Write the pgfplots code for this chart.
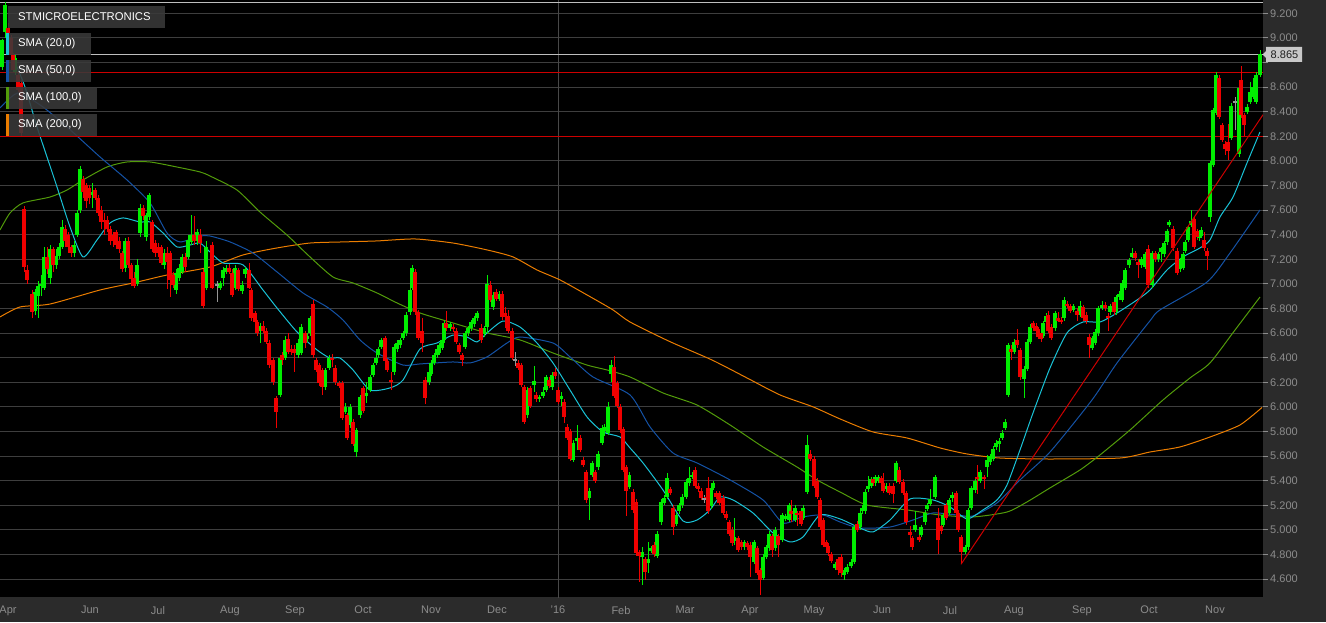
\documentclass[border=0pt]{standalone}
\usepackage{pgfplots}
\pgfplotsset{compat=1.18}
\usepackage{pgfplotstable}
\usepackage{fontspec}
\setmainfont{Liberation Sans}

\definecolor{panel}{RGB}{43,43,43}
\definecolor{gridc}{RGB}{62,62,62}
\definecolor{sepc}{RGB}{72,72,72}
\definecolor{tickc}{RGB}{140,140,140}
\definecolor{cup}{RGB}{0,238,0}
\definecolor{cdn}{RGB}{240,0,0}
\definecolor{cgr}{RGB}{150,150,150}
\definecolor{smaA}{RGB}{25,195,215}
\definecolor{smaB}{RGB}{20,82,165}
\definecolor{smaC}{RGB}{82,155,10}
\definecolor{smaD}{RGB}{235,125,0}
\definecolor{hred}{RGB}{205,0,0}
\definecolor{hlight}{RGB}{190,190,190}
\definecolor{legbox}{RGB}{58,58,58}
\definecolor{tagfill}{RGB}{200,200,200}

\pgfplotstableread{
x o h l c
2 8.76 8.99 8.74 8.98
5 9.05 9.29 9.00 9.27
8 9.08 9.12 9.00 9.04
11 9.00 9.02 8.84 8.86
13 8.86 8.88 8.72 8.74
15 8.72 8.86 8.70 8.84
18 8.70 8.72 8.56 8.58
21 8.63 8.66 8.20 8.23
24 7.61 7.63 7.10 7.14
27 7.11 7.15 7.00 7.03
32 6.92 6.95 6.72 6.77
35 6.78 6.96 6.75 6.93
38 6.90 7.02 6.72 6.98
41 6.98 7.07 6.90 7.00
44 6.97 7.30 6.95 7.22
47 7.22 7.30 7.08 7.12
50 7.05 7.32 7.00 7.28
53 7.28 7.30 7.10 7.15
56 7.15 7.28 7.12 7.23
59 7.23 7.33 7.20 7.30
62 7.30 7.52 7.28 7.46
65 7.45 7.48 7.30 7.35
68 7.40 7.42 7.25 7.30
71 7.30 7.32 7.22 7.25
74 7.25 7.35 7.22 7.32
77 7.40 7.60 7.38 7.58
80 7.60 7.96 7.58 7.93
83 7.85 7.88 7.70 7.75
86 7.80 7.82 7.62 7.67
89 7.78 7.80 7.65 7.70
92 7.72 7.82 7.62 7.75
95 7.76 7.78 7.68 7.70
98 7.70 7.72 7.55 7.58
101 7.60 7.63 7.45 7.50
104 7.52 7.58 7.40 7.51
107 7.52 7.55 7.42 7.45
110 7.45 7.47 7.32 7.35
113 7.40 7.42 7.30 7.35
116 7.42 7.44 7.28 7.32
119 7.35 7.38 7.25 7.28
122 7.25 7.27 7.10 7.12
125 7.13 7.37 7.10 7.35
128 7.35 7.38 7.13 7.15
131 7.15 7.17 6.98 7.04
134 7.05 7.10 6.97 6.98
137 7.00 7.20 6.98 7.15
140 7.41 7.65 7.38 7.62
143 7.62 7.64 7.52 7.55
146 7.38 7.58 7.35 7.56
149 7.54 7.74 7.52 7.72
152 7.50 7.52 7.26 7.28
155 7.33 7.36 7.22 7.25
158 7.30 7.33 7.22 7.25
161 7.30 7.32 7.15 7.17
164 7.15 7.28 7.12 7.25
167 7.25 7.30 6.96 7.18
170 7.25 7.27 6.89 7.03
173 7.07 7.10 6.97 6.99
176 6.95 7.12 6.92 7.09
179 7.05 7.16 7.02 7.13
182 7.10 7.24 7.08 7.22
185 7.22 7.25 7.10 7.14
188 7.22 7.40 7.20 7.36
191 7.34 7.56 7.32 7.40
194 7.40 7.55 7.32 7.35
197 7.35 7.45 7.32 7.42
200 7.40 7.45 7.25 7.33
203 7.10 7.12 6.80 6.82
206 6.97 7.35 6.95 7.30
212 7.32 7.34 6.96 6.97
217 6.99 7.02 6.85 6.99
220 6.97 7.02 6.95 7.01
223 7.05 7.14 6.98 7.11
226 7.10 7.15 7.08 7.13
229 7.13 7.16 7.08 7.10
232 7.09 7.12 6.89 6.91
235 6.97 7.15 6.95 7.13
238 7.11 7.13 6.94 6.96
242 6.94 7.02 6.92 6.99
245 7.08 7.14 7.05 7.12
249 7.11 7.17 6.96 6.97
251 6.95 6.97 6.70 6.72
255 6.76 6.78 6.66 6.69
257 6.69 6.71 6.58 6.60
260 6.62 6.68 6.52 6.66
263 6.66 6.70 6.60 6.62
266 6.62 6.64 6.51 6.53
269 6.52 6.54 6.32 6.34
273 6.38 6.40 6.18 6.20
276 6.07 6.09 5.83 5.96
280 6.10 6.42 6.08 6.40
282 6.42 6.45 6.34 6.38
285 6.40 6.58 6.38 6.54
288 6.55 6.60 6.43 6.45
291 6.47 6.50 6.42 6.45
294 6.47 6.50 6.28 6.44
298 6.42 6.55 6.40 6.52
301 6.44 6.67 6.42 6.65
305 6.60 6.62 6.48 6.52
307 6.55 6.60 6.53 6.58
310 6.60 6.74 6.58 6.72
313 6.84 6.87 6.40 6.42
316 6.38 6.40 6.28 6.30
319 6.34 6.36 6.17 6.19
322 6.30 6.32 6.10 6.16
325 6.16 6.32 6.14 6.30
329 6.32 6.42 6.30 6.40
332 6.40 6.43 6.32 6.38
335 6.32 6.34 6.18 6.20
339 6.19 6.21 6.15 6.17
342 6.19 6.21 5.89 5.91
345 5.96 6.03 5.94 6.00
347 5.93 5.95 5.73 5.75
350 5.85 6.02 5.83 6.00
353 5.88 5.90 5.68 5.70
356 5.63 5.83 5.59 5.81
360 5.93 6.10 5.91 6.08
363 6.15 6.17 5.95 5.97
366 6.09 6.20 6.03 6.11
370 6.14 6.26 6.12 6.24
373 6.26 6.36 6.24 6.34
376 6.36 6.42 6.34 6.40
378 6.42 6.49 6.40 6.47
381 6.49 6.56 6.47 6.54
385 6.56 6.58 6.35 6.37
387 6.37 6.39 6.28 6.30
391 6.22 6.28 6.14 6.20
394 6.28 6.51 6.26 6.49
397 6.47 6.54 6.45 6.52
400 6.50 6.56 6.48 6.54
403 6.56 6.62 6.54 6.60
406 6.60 6.77 6.58 6.75
410 6.77 6.97 6.75 6.95
412 6.97 7.15 6.95 7.13
415 7.10 7.12 6.75 6.77
418 6.77 6.79 6.54 6.56
422 6.62 6.72 6.45 6.52
425 6.22 6.24 6.02 6.07
429 6.20 6.30 6.18 6.28
431 6.27 6.38 6.25 6.36
434 6.36 6.44 6.34 6.42
437 6.42 6.49 6.40 6.47
439 6.44 6.52 6.42 6.50
442 6.48 6.56 6.46 6.54
444 6.54 6.70 6.52 6.68
446 6.68 6.78 6.62 6.64
450 6.64 6.69 6.62 6.67
453 6.65 6.67 6.61 6.63
456 6.62 6.64 6.51 6.53
459 6.50 6.52 6.43 6.45
462 6.42 6.44 6.33 6.38
465 6.49 6.62 6.47 6.60
468 6.60 6.66 6.58 6.64
471 6.64 6.71 6.62 6.69
474 6.67 6.74 6.65 6.72
477 6.72 6.78 6.70 6.76
481 6.64 6.67 6.52 6.54
484 6.59 6.66 6.57 6.64
487 6.65 7.07 6.60 7.00
490 6.99 7.02 6.85 6.87
493 6.81 6.93 6.79 6.91
496 6.93 6.96 6.86 6.88
499 6.88 6.94 6.86 6.92
502 6.92 6.94 6.71 6.73
505 6.76 6.81 6.64 6.73
508 6.74 6.79 6.60 6.62
512 6.62 6.64 6.38 6.40
515 6.38 6.45 6.33 6.38
518 6.36 6.38 6.30 6.32
521 6.34 6.36 6.16 6.18
524 6.16 6.18 5.86 5.88
527 5.93 6.16 5.91 6.14
530 6.15 6.17 5.99 6.01
534 6.18 6.33 6.12 6.21
536 6.10 6.12 6.04 6.06
539 6.06 6.10 6.04 6.08
543 6.09 6.16 6.07 6.12
546 6.14 6.26 6.12 6.24
549 6.22 6.24 6.15 6.17
552 6.16 6.28 6.14 6.26
555 6.28 6.32 6.23 6.25
558 6.14 6.16 6.02 6.04
561 6.06 6.12 6.01 6.09
564 6.04 6.06 5.87 5.92
567 5.84 5.86 5.73 5.75
570 5.80 5.82 5.56 5.58
573 5.57 5.73 5.55 5.71
577 5.72 5.85 5.65 5.75
580 5.75 5.77 5.63 5.65
583 5.57 5.59 5.51 5.53
586 5.47 5.49 5.22 5.24
589 5.26 5.34 5.08 5.32
592 5.45 5.56 5.43 5.54
595 5.47 5.49 5.38 5.40
598 5.51 5.64 5.49 5.62
602 5.71 5.85 5.69 5.83
604 5.80 5.86 5.76 5.84
608 5.79 6.04 5.77 6.00
611 6.27 6.38 6.20 6.34
614 6.32 6.41 6.07 6.09
617 6.19 6.21 5.99 6.01
620 6.00 6.02 5.79 5.81
623 5.82 5.84 5.47 5.49
626 5.51 5.53 5.11 5.32
629 5.35 5.47 5.33 5.45
633 5.31 5.33 5.14 5.16
636 5.23 5.25 4.79 4.81
639 4.82 4.84 4.58 4.79
642 4.78 4.86 4.55 4.82
645 4.76 4.78 4.59 4.66
648 4.73 4.90 4.65 4.76
651 4.83 4.87 4.81 4.85
654 4.88 4.90 4.78 4.80
657 4.79 4.99 4.77 4.97
661 5.06 5.25 5.04 5.23
664 5.22 5.28 5.20 5.26
667 5.27 5.46 5.25 5.42
670 5.33 5.35 5.28 5.30
673 5.18 5.20 4.96 5.02
676 5.05 5.14 5.03 5.12
679 5.15 5.22 5.13 5.20
682 5.20 5.29 5.18 5.27
686 5.27 5.41 5.25 5.39
689 5.38 5.51 5.36 5.42
692 5.43 5.47 5.41 5.45
695 5.49 5.51 5.34 5.36
698 5.36 5.38 5.31 5.33
701 5.32 5.34 5.24 5.26
704 5.25 5.28 5.22 5.25
706 5.27 5.29 5.23 5.25
708 5.34 5.43 5.13 5.15
711 5.19 5.36 5.17 5.34
713 5.34 5.40 5.32 5.38
716 5.30 5.32 5.25 5.27
719 5.30 5.32 5.20 5.22
723 5.26 5.28 5.12 5.14
726 5.13 5.15 5.08 5.10
729 5.06 5.08 4.95 4.97
732 5.00 5.02 4.87 4.89
734 4.91 5.10 4.88 4.94
738 4.93 4.95 4.82 4.84
741 4.90 4.92 4.84 4.86
744 4.86 4.92 4.84 4.90
747 4.89 4.91 4.84 4.86
750 4.88 4.90 4.62 4.78
754 4.74 4.92 4.72 4.90
757 4.85 4.87 4.63 4.65
760 4.67 4.69 4.47 4.59
763 4.61 4.80 4.59 4.78
766 4.78 4.88 4.76 4.86
769 4.85 4.99 4.83 4.97
772 4.95 4.97 4.78 4.84
775 4.85 5.02 4.83 5.00
778 4.95 4.97 4.78 4.88
782 4.92 5.14 4.90 5.12
785 5.09 5.13 5.07 5.11
789 5.08 5.22 5.06 5.20
791 5.15 5.24 5.06 5.13
795 5.08 5.20 5.06 5.18
797 5.14 5.15 5.03 5.12
801 5.15 5.17 5.03 5.05
803 5.10 5.20 5.08 5.18
807 5.31 5.77 5.29 5.69
810 5.62 5.65 5.56 5.58
814 5.58 5.60 5.34 5.36
817 5.40 5.42 5.25 5.27
820 5.24 5.26 5.00 5.02
823 5.08 5.10 4.86 4.88
826 4.90 4.92 4.84 4.86
828 4.87 4.89 4.79 4.81
831 4.80 4.82 4.73 4.75
835 4.69 4.74 4.67 4.72
838 4.76 4.78 4.63 4.67
841 4.78 4.80 4.62 4.65
844 4.63 4.69 4.59 4.67
847 4.66 4.72 4.64 4.70
851 4.71 4.76 4.69 4.74
854 4.74 5.04 4.72 5.02
857 5.05 5.07 4.98 5.00
860 5.02 5.16 5.00 5.14
862 5.15 5.20 5.13 5.18
865 5.15 5.33 5.13 5.31
868 5.33 5.44 5.31 5.36
871 5.36 5.43 5.34 5.41
873 5.41 5.43 5.36 5.38
875 5.38 5.45 5.36 5.43
878 5.40 5.45 5.38 5.43
881 5.42 5.44 5.36 5.38
883 5.38 5.46 5.30 5.32
886 5.33 5.38 5.31 5.36
889 5.36 5.38 5.28 5.30
893 5.36 5.38 5.22 5.29
896 5.40 5.56 5.38 5.54
899 5.49 5.51 5.37 5.39
903 5.39 5.41 5.28 5.30
906 5.30 5.32 5.04 5.06
910 4.98 5.03 4.90 4.96
912 4.93 4.95 4.84 4.86
915 5.00 5.15 4.98 5.04
919 4.94 4.99 4.90 4.92
921 4.96 5.04 4.94 5.02
925 5.06 5.16 5.04 5.14
927 5.17 5.22 5.15 5.20
930 5.21 5.33 5.19 5.25
935 5.27 5.45 5.25 5.43
938 5.10 5.18 4.80 4.92
941 5.03 5.05 4.97 4.99
943 5.04 5.14 5.02 5.12
946 5.20 5.22 5.08 5.10
949 5.14 5.26 5.12 5.24
952 5.26 5.31 5.23 5.28
956 5.30 5.32 5.12 5.14
958 5.14 5.16 4.98 5.00
961 4.94 4.96 4.73 4.82
965 4.82 4.88 4.80 4.86
968 4.86 5.18 4.84 5.16
971 5.18 5.36 5.16 5.34
975 5.32 5.42 5.30 5.40
977 5.43 5.53 5.29 5.41
980 5.40 5.49 5.38 5.47
984 5.43 5.45 5.33 5.42
987 5.51 5.61 5.43 5.57
990 5.55 5.62 5.53 5.60
993 5.58 5.68 5.56 5.66
996 5.67 5.73 5.65 5.71
999 5.70 5.75 5.63 5.72
1002 5.75 5.81 5.73 5.79
1005 5.83 5.90 5.81 5.88
1008 6.10 6.52 6.08 6.50
1011 6.47 6.50 6.38 6.45
1014 6.45 6.55 6.43 6.53
1017 6.54 6.63 6.48 6.50
1020 6.46 6.48 6.22 6.24
1024 6.23 6.33 6.07 6.31
1027 6.31 6.55 6.29 6.53
1030 6.53 6.67 6.51 6.65
1033 6.68 6.70 6.62 6.64
1036 6.66 6.68 6.60 6.62
1038 6.63 6.65 6.55 6.57
1041 6.60 6.62 6.53 6.55
1043 6.58 6.70 6.56 6.68
1046 6.69 6.76 6.67 6.74
1048 6.75 6.78 6.60 6.62
1051 6.65 6.67 6.54 6.56
1055 6.64 6.78 6.62 6.76
1058 6.72 6.77 6.69 6.70
1061 6.71 6.73 6.67 6.69
1064 6.72 6.89 6.70 6.87
1067 6.84 6.86 6.80 6.82
1070 6.82 6.84 6.76 6.78
1073 6.79 6.84 6.77 6.82
1077 6.78 6.80 6.70 6.75
1080 6.75 6.86 6.73 6.82
1083 6.81 6.83 6.70 6.72
1086 6.75 6.77 6.67 6.70
1089 6.57 6.59 6.40 6.50
1092 6.48 6.58 6.46 6.56
1095 6.52 6.63 6.50 6.61
1098 6.60 6.82 6.58 6.80
1102 6.80 6.86 6.79 6.83
1105 6.83 6.85 6.78 6.80
1108 6.74 6.76 6.62 6.72
1110 6.77 6.84 6.75 6.82
1114 6.85 6.87 6.75 6.77
1116 6.77 6.91 6.75 6.89
1119 6.89 6.94 6.87 6.92
1122 6.87 7.03 6.85 7.01
1125 6.97 7.13 6.95 7.11
1129 7.15 7.21 7.13 7.19
1132 7.22 7.29 7.21 7.25
1135 7.25 7.27 7.19 7.21
1138 7.18 7.20 7.05 7.15
1141 7.15 7.22 7.13 7.20
1145 7.14 7.26 7.12 7.24
1148 7.28 7.32 6.97 6.99
1152 6.99 7.27 6.97 7.25
1155 7.25 7.27 7.18 7.20
1158 7.20 7.26 7.18 7.24
1161 7.26 7.30 7.18 7.29
1164 7.24 7.35 7.22 7.33
1167 7.34 7.45 7.32 7.43
1169 7.48 7.52 7.46 7.50
1173 7.45 7.47 7.27 7.29
1177 7.27 7.29 7.07 7.09
1180 7.12 7.21 7.10 7.19
1183 7.13 7.26 7.11 7.24
1185 7.27 7.36 7.25 7.34
1188 7.36 7.48 7.34 7.46
1191 7.48 7.60 7.46 7.51
1194 7.53 7.55 7.28 7.30
1197 7.43 7.45 7.36 7.38
1199 7.37 7.43 7.35 7.41
1201 7.39 7.46 7.37 7.44
1204 7.36 7.42 7.27 7.29
1207 7.27 7.29 7.11 7.23
1210 7.54 8.00 7.50 7.98
1213 7.97 8.43 7.95 8.41
1216 8.39 8.72 8.37 8.70
1219 8.67 8.70 8.34 8.36
1222 8.29 8.31 8.15 8.17
1225 8.14 8.16 8.05 8.10
1228 8.15 8.30 8.01 8.08
1231 8.19 8.47 8.17 8.45
1235 8.48 8.52 8.25 8.48
1239 8.06 8.61 8.03 8.59
1241 8.66 8.77 8.35 8.37
1244 8.37 8.39 8.20 8.29
1247 8.40 8.46 8.38 8.44
1250 8.48 8.64 8.46 8.56
1253 8.52 8.67 8.50 8.60
1256 8.48 8.72 8.46 8.70
1260 8.70 8.90 8.68 8.865
}\ohlc

\newcommand{\lab}{\fontsize{11}{13}\selectfont}
\newcommand{\legf}{\fontsize{11.3}{13}\selectfont}

\begin{document}
\begin{tikzpicture}[x=1pt,y=1pt]
\useasboundingbox (0,0) rectangle (1326,622);
\fill[panel] (0,0) rectangle (1326,622);
\begin{axis}[
  at={(0pt,25pt)}, anchor=south west,
  width=1263pt, height=597pt, scale only axis,
  xmin=0, xmax=1263, ymin=4.454, ymax=9.308,
  axis line style={draw=none},
  axis background/.style={fill=black},
  ymajorgrids, grid style={draw=gridc, line width=1pt},
  ytick={4.6,4.8,5,5.2,5.4,5.6,5.8,6,6.2,6.4,6.6,6.8,7,7.2,7.4,7.6,7.8,8,8.2,8.4,8.6,8.8,9,9.2},
  yticklabels={4.600,4.800,5.000,5.200,5.400,5.600,5.800,6.000,6.200,6.400,6.600,6.800,7.000,7.200,7.400,7.600,7.800,8.000,8.200,8.400,8.600,{},9.000,9.200},
  ytick pos=right, yticklabel pos=right,
  tick align=outside, major tick length=5pt,
  ytick style={draw=tickc, line width=1pt},
  xtick={8,90,158,230,295,363,431,497,558,621,685,750,814,882,950,1014,1082,1149,1215},
  xticklabels={Apr,Jun,Jul,Aug,Sep,Oct,Nov,Dec,'16,Feb,Mar,Apr,May,Jun,Jul,Aug,Sep,Oct,Nov},
  xtick pos=bottom, xtick style={draw=none},
  tick label style={font=\lab, text=tickc},
  /pgf/number format/assume math mode=true,
  yticklabel style={anchor=west, inner sep=0pt, xshift=2pt},
  xticklabel style={anchor=north, inner sep=0pt, yshift=-4pt},
]
% year separator
\addplot[draw=sepc, line width=1pt, forget plot] coordinates {(558,4.3) (558,9.4)};
% SMA 200
\addplot[draw=smaD, line width=1pt, smooth, tension=0.4] coordinates {
(0,6.731) (20,6.812) (50,6.836) (100,6.950) (133,7.007) (167,7.072) (210,7.137) (243,7.235) (277,7.292) (310,7.332) (343,7.341) (377,7.349) (415,7.365) (453,7.332) (487,7.276) (513,7.219) (537,7.113) (560,7.032) (587,6.910) (613,6.788) (630,6.690) (670,6.53) (712,6.381) (747,6.235) (780,6.097) (813,6.000) (840,5.902) (873,5.796) (907,5.747) (940,5.666) (967,5.617) (1000,5.584) (1050,5.576) (1120,5.584) (1150,5.633) (1180,5.674) (1210,5.755) (1240,5.853) (1262,5.995)};
% SMA 100
\addplot[draw=smaC, line width=1pt, smooth, tension=0.4] coordinates {
(0,7.438) (10,7.576) (23,7.658) (50,7.706) (67,7.763) (83,7.845) (107,7.950) (127,7.991) (150,7.991) (177,7.950) (200,7.910) (210,7.877) (237,7.763) (260,7.584) (287,7.397) (310,7.219) (333,7.056) (353,7.007) (377,6.926) (397,6.845) (420,6.763) (453,6.682) (487,6.601) (520,6.544) (553,6.438) (587,6.340) (607,6.300) (630,6.243) (663,6.113) (697,6.015) (730,5.853) (763,5.674) (797,5.511) (817,5.406) (840,5.308) (867,5.202) (907,5.162) (940,5.121) (973,5.105) (1007,5.145) (1027,5.227) (1050,5.341) (1080,5.487) (1100,5.609) (1130,5.812) (1163,6.056) (1190,6.235) (1210,6.357) (1235,6.625) (1260,6.893)};
% SMA 50
\addplot[draw=smaB, line width=1pt, smooth, tension=0.4] coordinates {
(0,8.430) (10,8.511) (20,8.552) (43,8.438) (67,8.276) (100,8.032) (127,7.845) (150,7.658) (167,7.414) (180,7.341) (200,7.389) (210,7.389) (230,7.341) (253,7.251) (277,7.097) (303,6.926) (327,6.812) (343,6.706) (360,6.544) (377,6.438) (403,6.340) (420,6.349) (453,6.365) (470,6.357) (487,6.406) (507,6.519) (520,6.568) (553,6.519) (570,6.406) (593,6.243) (630,6.097) (650,5.837) (673,5.625) (697,5.544) (730,5.406) (763,5.243) (783,5.056) (803,5.105) (823,5.121) (840,5.064) (860,5.015) (890,5.023) (913,5.080) (933,5.137) (957,5.121) (973,5.113) (997,5.219) (1020,5.406) (1050,5.633) (1092,6.056) (1117,6.357) (1150,6.70) (1160,6.788) (1207,7.015) (1230,7.251) (1260,7.601)};
% SMA 20
\addplot[draw=smaA, line width=1pt, smooth, tension=0.4] coordinates {
(12,8.861) (25,8.601) (37,8.276) (47,8.032) (57,7.788) (70,7.463) (83,7.219) (97,7.357) (110,7.495) (123,7.536) (140,7.503) (150,7.503) (163,7.414) (177,7.300) (190,7.316) (200,7.332) (210,7.259) (223,7.170) (243,7.154) (263,6.950) (277,6.804) (297,6.609) (317,6.463) (330,6.397) (340,6.397) (353,6.300) (370,6.137) (390,6.154) (403,6.218) (420,6.471) (437,6.519) (453,6.584) (467,6.568) (477,6.528) (487,6.601) (503,6.698) (520,6.649) (537,6.519) (553,6.357) (570,6.137) (587,5.918) (603,5.796) (620,5.755) (630,5.666) (643,5.544) (663,5.324) (683,5.072) (697,5.080) (710,5.162) (720,5.267) (733,5.243) (753,5.137) (773,4.975) (790,4.902) (803,4.942) (820,5.121) (840,5.089) (860,5.015) (873,4.983) (890,5.080) (910,5.251) (933,5.243) (950,5.186) (967,5.089) (983,5.162) (997,5.243) (1007,5.365) (1020,5.650) (1033,5.950) (1050,6.316) (1067,6.601) (1083,6.690) (1100,6.690) (1117,6.763) (1137,6.869) (1150,6.950) (1167,7.113) (1183,7.219) (1200,7.292) (1210,7.357) (1220,7.544) (1233,7.706) (1247,7.983) (1260,8.235)};
% horizontal levels
\addplot[draw=hlight, line width=1pt] coordinates {(0,9.289) (1263,9.289)};
\addplot[draw=hlight, line width=1pt] coordinates {(0,8.865) (1263,8.865)};
\addplot[draw=hred, line width=1pt] coordinates {(0,8.717) (1263,8.717)};
\addplot[draw=hred, line width=1pt] coordinates {(0,8.200) (1263,8.200)};
% candles: wicks
\addplot[draw=none, mark=none, restrict y to domain=0:100,
  error bars/.cd, y dir=both, y explicit, error mark=none,
  error bar style={draw=cup, line width=1pt}]
  table[x=x, y expr={ifthenelse(\thisrow{c}>\thisrow{o},(\thisrow{h}+\thisrow{l})/2,-5)}, y error expr={(\thisrow{h}-\thisrow{l})/2}] {\ohlc};
\addplot[draw=none, mark=none, restrict y to domain=0:100,
  error bars/.cd, y dir=both, y explicit, error mark=none,
  error bar style={draw=cdn, line width=1pt}]
  table[x=x, y expr={ifthenelse(\thisrow{c}<\thisrow{o},(\thisrow{h}+\thisrow{l})/2,-5)}, y error expr={(\thisrow{h}-\thisrow{l})/2}] {\ohlc};
\addplot[draw=none, mark=none, restrict y to domain=0:100,
  error bars/.cd, y dir=both, y explicit, error mark=none,
  error bar style={draw=cgr, line width=1pt}]
  table[x=x, y expr={ifthenelse(\thisrow{c}==\thisrow{o},(\thisrow{h}+\thisrow{l})/2,-5)}, y error expr={(\thisrow{h}-\thisrow{l})/2}] {\ohlc};
% candles: bodies
\addplot[draw=none, mark=none, restrict y to domain=0:100,
  error bars/.cd, y dir=both, y explicit, error mark=none,
  error bar style={draw=cup, line width=3.1pt}]
  table[x=x, y expr={ifthenelse(\thisrow{c}>\thisrow{o},(\thisrow{o}+\thisrow{c})/2,-5)}, y error expr={max(abs(\thisrow{c}-\thisrow{o})/2,0.008)}] {\ohlc};
\addplot[draw=none, mark=none, restrict y to domain=0:100,
  error bars/.cd, y dir=both, y explicit, error mark=none,
  error bar style={draw=cdn, line width=3.1pt}]
  table[x=x, y expr={ifthenelse(\thisrow{c}<\thisrow{o},(\thisrow{o}+\thisrow{c})/2,-5)}, y error expr={max(abs(\thisrow{c}-\thisrow{o})/2,0.008)}] {\ohlc};
\addplot[draw=none, mark=none, restrict y to domain=0:100,
  error bars/.cd, y dir=both, y explicit, error mark=none,
  error bar style={draw=cgr, line width=3.1pt}]
  table[x=x, y expr={ifthenelse(\thisrow{c}==\thisrow{o},(\thisrow{o}+\thisrow{c})/2,-5)}, y error expr={max(abs(\thisrow{c}-\thisrow{o})/2,0.008)}] {\ohlc};
% trend line
\addplot[draw=hred, line width=1pt] coordinates {(961,4.72) (1263,8.375)};
\end{axis}
% legend boxes
\fill[legbox, opacity=0.88] (8.3,616) rectangle (165,594);
\fill[legbox, opacity=0.88] (8.3,589) rectangle (91,567);
\fill[legbox, opacity=0.88] (8.3,562) rectangle (91,540);
\fill[legbox, opacity=0.88] (8.3,535) rectangle (97,513);
\fill[legbox, opacity=0.88] (8.3,508) rectangle (97,486);
\fill[smaA] (6,589) rectangle (9,567);
\fill[smaB] (6,562) rectangle (9,540);
\fill[smaC] (6,535) rectangle (9,513);
\fill[smaD] (6,508) rectangle (9,486);
\node[anchor=west, inner sep=0pt, text=white, font=\legf] at (18,605) {STMICROELECTRONICS};
\node[anchor=west, inner sep=0pt, text=white, font=\legf] at (18,578) {SMA (20,0)};
\node[anchor=west, inner sep=0pt, text=white, font=\legf] at (18,551) {SMA (50,0)};
\node[anchor=west, inner sep=0pt, text=white, font=\legf] at (18,524) {SMA (100,0)};
\node[anchor=west, inner sep=0pt, text=white, font=\legf] at (18,497) {SMA (200,0)};
% last price tag
\fill[tagfill] (1262.5,567.5) -- (1266,571) -- (1266,575) -- (1302,575) -- (1302,560) -- (1266,560) -- (1266,564) -- cycle;
\node[inner sep=0pt, text={rgb,255:red,30;green,30;blue,30}, font=\lab] at (1284.5,567.5) {8.865};
\end{tikzpicture}
\end{document}
